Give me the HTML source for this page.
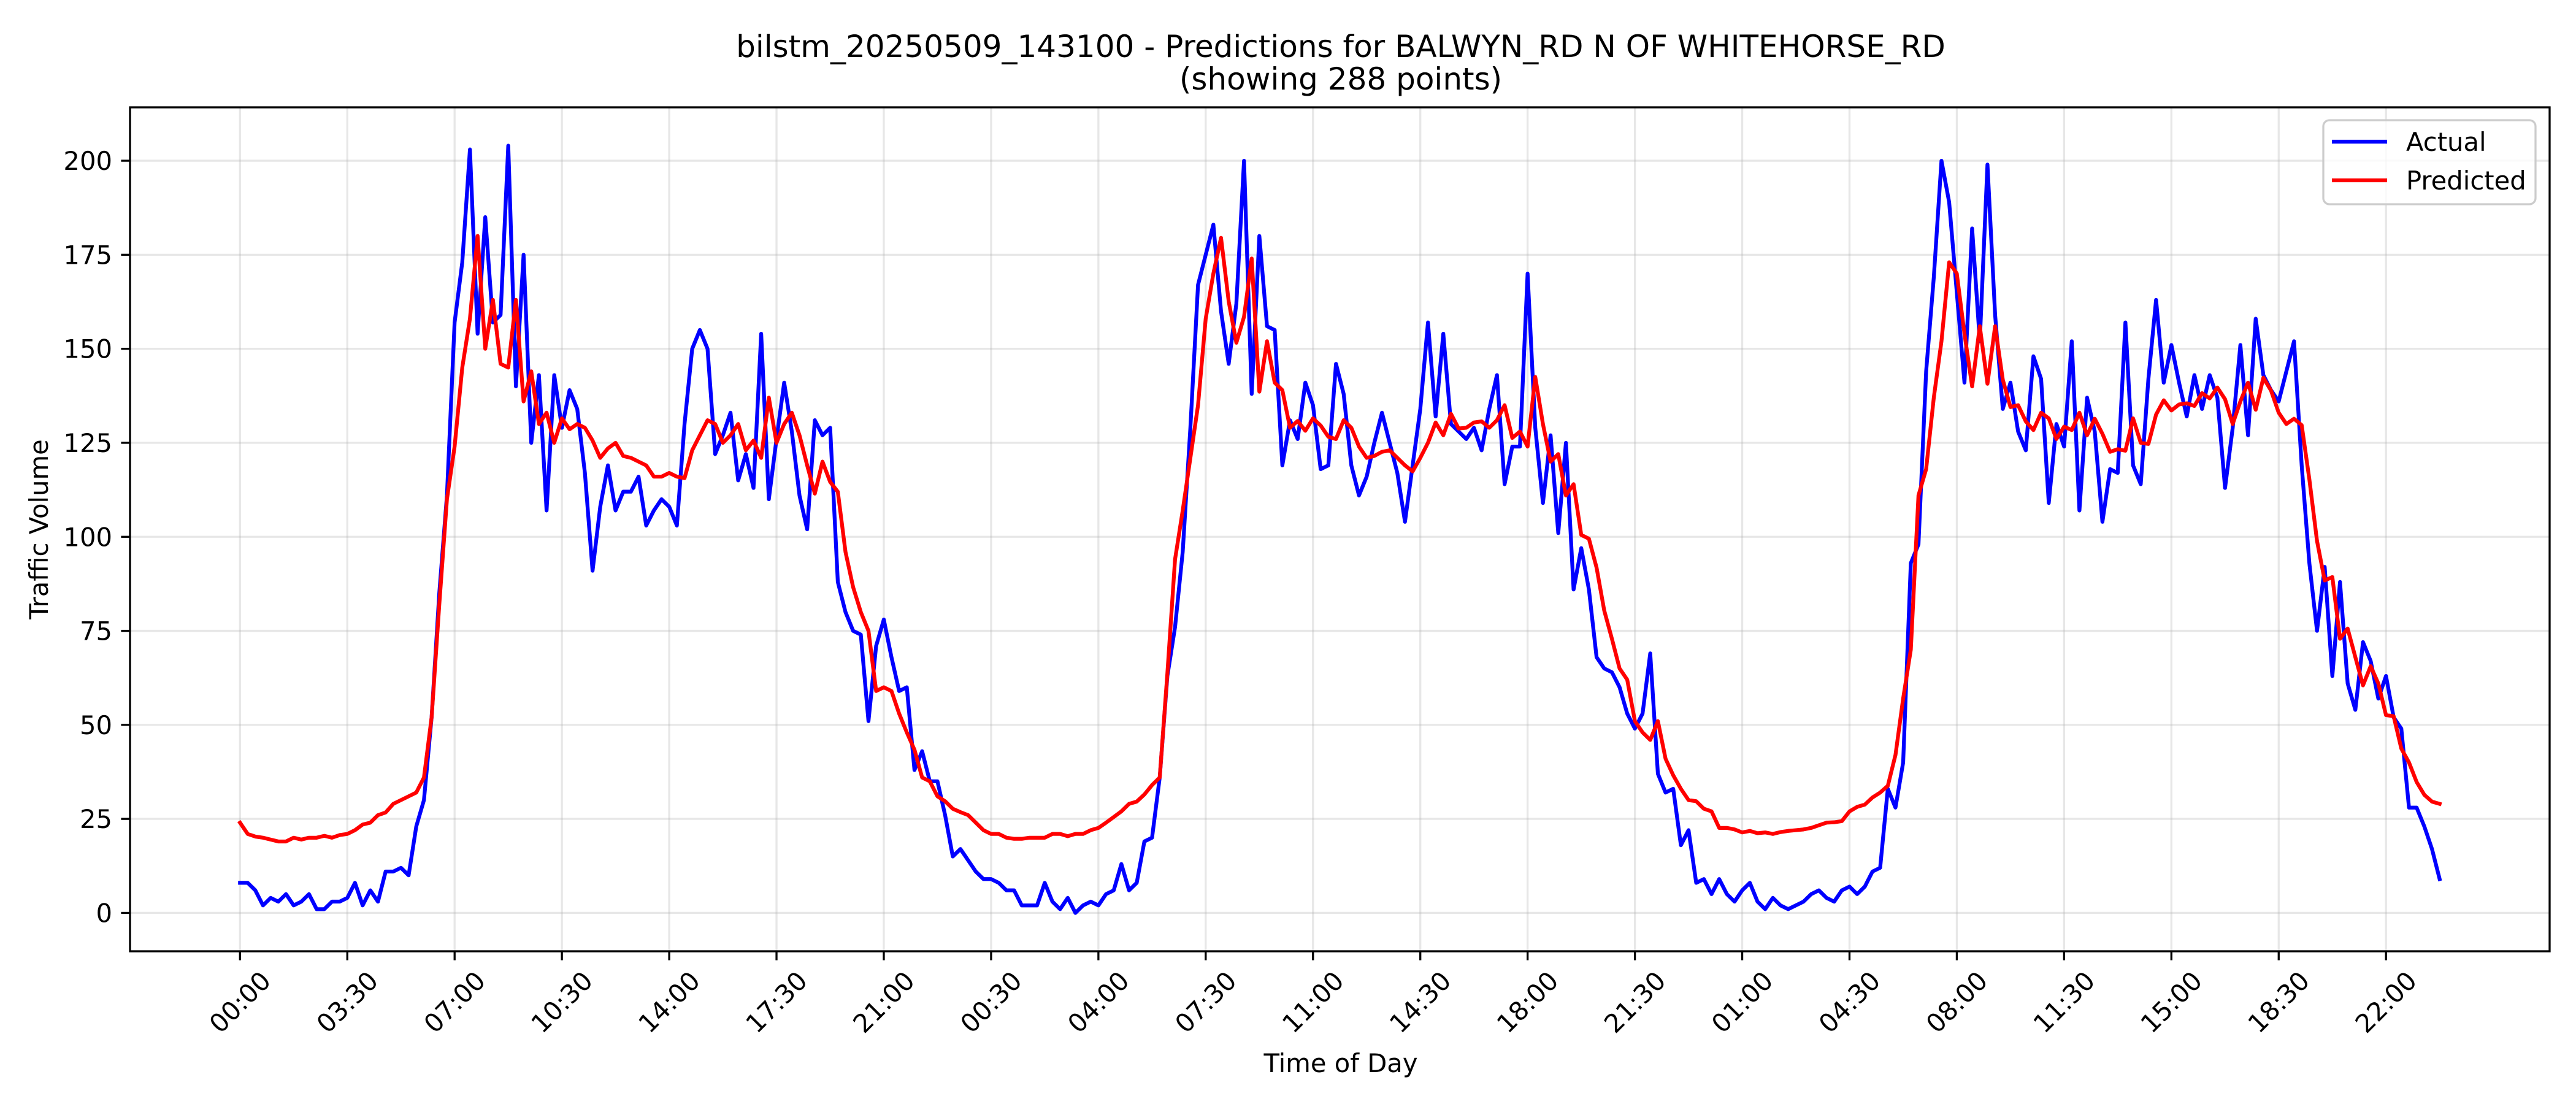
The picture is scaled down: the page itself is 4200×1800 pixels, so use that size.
<!DOCTYPE html>
<html>
<head>
<meta charset="utf-8">
<style>
  html, body { margin: 0; padding: 0; background: #fff; }
  svg { display: block; font-family: "DejaVu Sans", "Liberation Sans", sans-serif; }
</style>
</head>
<body>
<svg id="chart" xmlns="http://www.w3.org/2000/svg" width="4200" height="1800" viewBox="0 0 4200 1800">
  <rect x="0" y="0" width="4200" height="1800" fill="#fff"/>
  <g id="grid"></g>
  <g id="series"></g>
  <rect x="212" y="175" width="3945" height="1376" fill="none" stroke="#000" stroke-width="3.3"/>
  <g id="xticks"></g>
  <g id="yticks"></g>
  <text x="2186" y="93" text-anchor="middle" font-size="50">bilstm_20250509_143100 - Predictions for BALWYN_RD N OF WHITEHORSE_RD</text>
  <text x="2186" y="146" text-anchor="middle" font-size="50">(showing 288 points)</text>
  <text x="2186" y="1748" text-anchor="middle" font-size="41.7">Time of Day</text>
  <text transform="translate(78,863) rotate(-90)" text-anchor="middle" font-size="41.7">Traffic Volume</text>
  <g>
    <rect x="3788" y="196" width="346" height="137" rx="10" fill="#fff" fill-opacity="0.8" stroke="#cccccc" stroke-width="3.3"/>
    <line x1="3802" y1="231" x2="3892" y2="231" stroke="#0000ff" stroke-width="6.25"/>
    <text x="3923" y="246" font-size="41.7">Actual</text>
    <line x1="3802" y1="294" x2="3892" y2="294" stroke="#ff0000" stroke-width="6.25"/>
    <text x="3923" y="309" font-size="41.7">Predicted</text>
  </g>
</svg>
<script>
const tickLabels = ["00:00","03:30","07:00","10:30","14:00","17:30","21:00","00:30","04:00","07:30","11:00","14:30","18:00","21:30","01:00","04:30","08:00","11:30","15:00","18:30","22:00"];
const tickStep = 14;
const yTicks = [0,25,50,75,100,125,150,175,200];
const actual = [8,8,6,2,4,3,5,2,3,5,1,1,3,3,4,8,2,6,3,11,11,12,10,23,30,52,85,111,157,173,203,154,185,157,159,204,140,175,125,143,107,143,129,139,134,117,91,108,119,
107,112,112,116,103,107,110,108,103,130,150,155,150,122,127,133,115,122,113,154,110,126,141,128,111,102,131,127,129,88,80,75,74,51,71,78,68,59,60,38,43,35,35,26,15,17,14,11,
9,9,8,6,6,2,2,2,8,3,1,4,0,2,3,2,5,6,13,6,8,19,20,36,63,76,96,129,167,175,183,160,146,162,200,138,180,156,155,119,131,126,141,135,118,119,146,138,
119,111,116,125,133,125,117,104,119,134,157,132,154,130,128,126,129,123,134,143,114,124,124,170,129,109,127,101,125,86,97,86,68,65,64,60,53,49,53,69,37,32,33,18,22,8,9,5,
9,5,3,6,8,3,1,4,2,1,2,3,5,6,4,3,6,7,5,7,11,12,33,28,40,93,98,144,169,200,189,165,141,182,152,199,159,134,141,128,123,148,142,109,130,124,152,107,
137,128,104,118,117,157,119,114,142,163,141,151,141,132,143,134,143,137,113,129,151,127,158,143,139,136,144,152,119,93,75,92,63,88,61,54,72,67,57,63,52,49,28,28,23,17,9];
const predicted = [24,21,20.3,20,19.5,19,19,20,19.5,20,20,20.5,20,20.7,21,22,23.5,24,26,26.7,29,30,31,32,36,52,82,110,124,145,158,180,150,163,146,145,163,136,144,130,133,125,131.5,128.6,130,129,125.6,121,123.5,
125,121.5,121,120,119,116,116,117,116,115.6,123,127,131,130,125,127,130,123,125.6,121,137,125,130,133,127,119,111.5,120,114.6,112,96,86.6,80,75,59,60,59,53,48,43.4,36,35,31,29.7,27.7,26.8,26,24,
22,21,21,20,19.7,19.7,20,20,20,21,21,20.4,21,21,22,22.6,24,25.5,27,29,29.6,31.5,34,36,63.7,94,107,121,135,158,170,179.5,162.6,151.6,158.5,174,138.6,152,141,139,129,130.8,128.2,131.5,129.6,126.6,126,131,
129,124,121,121.5,122.6,123,121,119,117.4,121,125,130.4,127,132.7,128.8,129,130.4,130.7,129,131,135,126.3,128,124,142.5,130,120,122,111,114,100.5,99.5,91.8,80.4,72.9,65,62,51,48,46,51,41,36.6,33,30,29.7,27.7,27,
22.6,22.6,22.2,21.4,21.8,21.2,21.4,21,21.5,21.8,22,22.2,22.6,23.3,24,24.1,24.4,27,28.2,28.8,30.7,32,33.8,42,57,70,111,118,137,152,173,170,154,140,156,140.7,156,141.8,134.5,135,130.7,128.4,133,131.5,126,129.3,128.4,133,
127,131.4,127.4,122.6,123.3,122.9,131.5,125,124.7,132.5,136.3,133.6,135.2,135.5,134.8,138.2,136.8,139.7,136.6,130,136,141,133.8,142.3,138.9,133,130,131.4,129.7,115.3,98.9,88.4,89.3,72.9,75.6,68,60.5,65.6,61,52.6,52.3,43.7,40,34.8,31.4,29.6,29];

const NS = "http://www.w3.org/2000/svg";
const L = 212, R = 4157, T = 175, B = 1551;
const n = actual.length;
const xMinD = -0.05 * (n - 1), xMaxD = (n - 1) * 1.05;
const allV = actual.concat(predicted);
const vMin = Math.min(...allV), vMax = Math.max(...allV);
const yMinD = vMin - 0.05 * (vMax - vMin), yMaxD = vMax + 0.05 * (vMax - vMin);
function xs(i) { return L + (i - xMinD) / (xMaxD - xMinD) * (R - L); }
function ys(v) { return B - (v - yMinD) / (yMaxD - yMinD) * (B - T); }
function mk(tag, attrs, parent) {
  const e = document.createElementNS(NS, tag);
  for (const k in attrs) e.setAttribute(k, attrs[k]);
  parent.appendChild(e);
  return e;
}
const grid = document.getElementById('grid');
const xg = document.getElementById('xticks');
const yg = document.getElementById('yticks');
const sg = document.getElementById('series');

tickLabels.forEach((lab, k) => {
  const x = xs(k * tickStep);
  const gl = mk('line', {x1: x, y1: T, x2: x, y2: B, stroke: '#b0b0b0', 'stroke-opacity': 0.3, 'stroke-width': 3.3}, grid);
  
  
  const tk = mk('line', {x1: x, y1: B, x2: x, y2: B + 14.6, stroke: '#000', 'stroke-width': 3.3}, xg);
  
  
  const t = mk('text', {x: 0, y: 0, 'text-anchor': 'middle', 'dominant-baseline': 'central', 'font-size': 41.7, transform: 'translate(' + x + ',1634) rotate(-45)'}, xg);
  t.textContent = lab;
  
  
});
yTicks.forEach(v => {
  const y = ys(v);
  const gl = mk('line', {x1: L, y1: y, x2: R, y2: y, stroke: '#b0b0b0', 'stroke-opacity': 0.3, 'stroke-width': 3.3}, grid);
  
  
  const tk = mk('line', {x1: L - 14.6, y1: y, x2: L, y2: y, stroke: '#000', 'stroke-width': 3.3}, yg);
  
  
  const t = mk('text', {x: L - 29, y: y + 15, 'text-anchor': 'end', 'font-size': 41.7}, yg);
  t.textContent = String(v);
  
  
});
function pathFor(arr) { return arr.map((v, i) => (i ? 'L' : 'M') + xs(i).toFixed(2) + ',' + ys(v).toFixed(2)).join(''); }
const pa = mk('path', {d: pathFor(actual), fill: 'none', stroke: '#0000ff', 'stroke-width': 6.25, 'stroke-linejoin': 'round', 'stroke-linecap': 'square'}, sg);


const pp = mk('path', {d: pathFor(predicted), fill: 'none', stroke: '#ff0000', 'stroke-width': 6.25, 'stroke-linejoin': 'round', 'stroke-linecap': 'square'}, sg);


</script>
</body>
</html>
